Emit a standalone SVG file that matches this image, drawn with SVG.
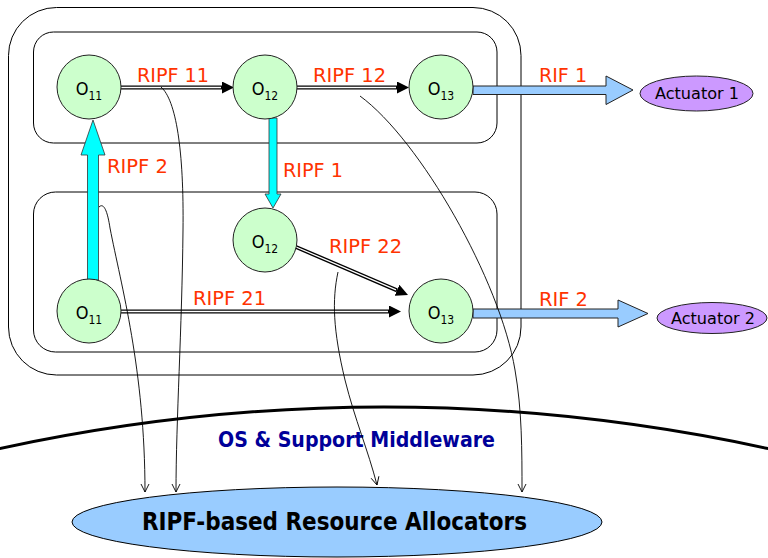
<svg xmlns="http://www.w3.org/2000/svg" width="768" height="558" viewBox="0 0 768 558">
  <style>
    .box { fill: none; stroke: #000; stroke-width: 1; }
    .node circle { fill: #ccffcc; stroke: #222; stroke-width: 1; }
    .otxt { font-family: "DejaVu Sans Condensed", "DejaVu Sans", sans-serif; font-stretch: condensed; font-size: 18px; fill: #000; text-anchor: middle; }
    .sub { font-size: 12px; }
    .lbl { font-family: "DejaVu Sans Condensed", "DejaVu Sans", sans-serif; font-stretch: condensed; font-size: 20px; fill: #ff3300; }
    .act ellipse { fill: #cc99ff; stroke: #222; stroke-width: 1; }
    .acttxt { font-family: "DejaVu Sans Condensed", "DejaVu Sans", sans-serif; font-stretch: condensed; font-size: 16.5px; fill: #000; }
    .dbl-out { fill: none; stroke: #000; stroke-width: 4; }
    .dbl-in { fill: none; stroke: #fff; stroke-width: 1.3; }
    .cyan { fill: #00ffff; stroke: #333; stroke-width: 0.8; }
    .blue { fill: #99ccff; stroke: #222; stroke-width: 1; }
    .thin { fill: none; stroke: #000; stroke-width: 0.9; marker-end: url(#open); }
    .mw { fill: none; stroke: #000; stroke-width: 3; }
    .mwtxt { font-family: "DejaVu Sans Condensed", "DejaVu Sans", sans-serif; font-stretch: condensed; font-weight: bold; font-size: 21px; fill: #000099; }
    .alloc ellipse { fill: #99ccff; stroke: #000; stroke-width: 1; }
    .alloctxt { font-family: "DejaVu Sans Condensed", "DejaVu Sans", sans-serif; font-stretch: condensed; font-weight: bold; font-size: 24px; fill: #000; text-anchor: middle; }
  </style>
  <defs>
    <marker id="head" markerUnits="userSpaceOnUse" markerWidth="12" markerHeight="12" refX="0" refY="6" orient="auto">
      <path d="M0,0 L12,6 L0,12 z" fill="#000"/>
    </marker>
    <marker id="open" markerUnits="userSpaceOnUse" markerWidth="10" markerHeight="10" refX="9" refY="5" orient="auto">
      <path d="M1,1 L9,5 L1,9" fill="none" stroke="#000" stroke-width="0.9"/>
    </marker>
  </defs>

  <rect width="768" height="558" fill="#fff"/>

  <!-- middleware layer boundary -->
  <path class="mw" d="M-2,449 Q384,365 770,449"/>
  <text class="mwtxt" x="218" y="447" textLength="277" lengthAdjust="spacingAndGlyphs">OS &amp; Support Middleware</text>

  <!-- containers -->
  <g id="outer-box">
    <rect class="box" x="8.5" y="7.5" width="512.5" height="367.5" rx="48"/>
  </g>
  <g id="group-1">
    <rect class="box" x="33.5" y="32" width="463.5" height="111" rx="20"/>
  </g>
  <g id="group-2">
    <rect class="box" x="33.5" y="192" width="463.5" height="160" rx="22"/>
  </g>

  <!-- allocator -->
  <g id="allocators" class="alloc">
    <ellipse cx="337" cy="522" rx="265" ry="35"/>
    <text class="alloctxt" x="334.5" y="530" textLength="385" lengthAdjust="spacingAndGlyphs">RIPF-based Resource Allocators</text>
  </g>

  <g id="connectors">
    <!-- RIPF 11 -->
    <line class="dbl-out" x1="121" y1="87.5" x2="222" y2="87.5" marker-end="url(#head)"/>
    <line class="dbl-in" x1="121" y1="87.5" x2="221" y2="87.5"/>
    <!-- RIPF 12 -->
    <line class="dbl-out" x1="297" y1="87.5" x2="397" y2="87.5" marker-end="url(#head)"/>
    <line class="dbl-in" x1="297" y1="87.5" x2="396" y2="87.5"/>
    <!-- RIPF 21 -->
    <line class="dbl-out" x1="121" y1="311.5" x2="389" y2="311.5" marker-end="url(#head)"/>
    <line class="dbl-in" x1="121" y1="311.5" x2="388" y2="311.5"/>
    <!-- RIPF 22 -->
    <line class="dbl-out" x1="296" y1="247" x2="397" y2="290.3" marker-end="url(#head)"/>
    <line class="dbl-in" x1="296" y1="247" x2="396" y2="289.9"/>

    <!-- RIPF 1 (down) -->
    <polygon class="cyan" points="269,118 277,118 277,194 281,194 273,208 265,194 269,194"/>
    <!-- RIPF 2 (up) -->
    <polygon class="cyan" points="87.5,280 98.5,280 98.5,155 105,155 93,120 81,155 87.5,155"/>

    <!-- RIF 1 / RIF 2 -->
    <polygon class="blue" points="473,86 606,86 606,76 633,90 606,104.5 606,94.5 473,94.5"/>
    <polygon class="blue" points="473,309 618,309 618,300 648,313.5 618,327 618,318 473,318"/>

    <!-- resource demands to allocators -->
    <path class="thin" d="M99,207 C103,203 107,208 110,228 C121,285 145,370 145,492"/>
    <path class="thin" d="M161,87 C176,100 184,150 183,230 C182,330 176,420 176,492"/>
    <path class="thin" d="M338,272 C332,300 333,330 345,380 C355,420 368,450 377,485"/>
    <path class="thin" d="M360,96 C420,140 500,280 515,370 C522,410 522,450 522,492"/>
  </g>

  <!-- connector labels -->
  <text class="lbl" x="137" y="82" textLength="72" lengthAdjust="spacingAndGlyphs">RIPF 11</text>
  <text class="lbl" x="313" y="82" textLength="73" lengthAdjust="spacingAndGlyphs">RIPF 12</text>
  <text class="lbl" x="107" y="173" textLength="61" lengthAdjust="spacingAndGlyphs">RIPF 2</text>
  <text class="lbl" x="283" y="177" textLength="60" lengthAdjust="spacingAndGlyphs">RIPF 1</text>
  <text class="lbl" x="329" y="253" textLength="73" lengthAdjust="spacingAndGlyphs">RIPF 22</text>
  <text class="lbl" x="193" y="305" textLength="73" lengthAdjust="spacingAndGlyphs">RIPF 21</text>
  <text class="lbl" x="539" y="82" textLength="48" lengthAdjust="spacingAndGlyphs">RIF 1</text>
  <text class="lbl" x="539" y="306" textLength="49" lengthAdjust="spacingAndGlyphs">RIF 2</text>

  <!-- operators -->
  <g id="o11-top" class="node">
    <circle cx="89" cy="87" r="32"/>
    <text class="otxt" x="89" y="95">O<tspan class="sub" dy="5">11</tspan></text>
  </g>
  <g id="o12-top" class="node">
    <circle cx="265" cy="87" r="32"/>
    <text class="otxt" x="265" y="95">O<tspan class="sub" dy="5">12</tspan></text>
  </g>
  <g id="o13-top" class="node">
    <circle cx="441" cy="87" r="32"/>
    <text class="otxt" x="441" y="95">O<tspan class="sub" dy="5">13</tspan></text>
  </g>
  <g id="o12-mid" class="node">
    <circle cx="265" cy="240" r="32"/>
    <text class="otxt" x="265" y="248">O<tspan class="sub" dy="5">12</tspan></text>
  </g>
  <g id="o11-bot" class="node">
    <circle cx="89" cy="311" r="32"/>
    <text class="otxt" x="89" y="319">O<tspan class="sub" dy="5">11</tspan></text>
  </g>
  <g id="o13-bot" class="node">
    <circle cx="441" cy="311" r="32"/>
    <text class="otxt" x="441" y="319">O<tspan class="sub" dy="5">13</tspan></text>
  </g>

  <!-- actuators -->
  <g id="actuator-1" class="act">
    <ellipse cx="696.5" cy="93.5" rx="56.5" ry="17.5"/>
    <text class="acttxt" x="655" y="99" textLength="84" lengthAdjust="spacingAndGlyphs">Actuator 1</text>
  </g>
  <g id="actuator-2" class="act">
    <ellipse cx="712" cy="318" rx="55" ry="15.5"/>
    <text class="acttxt" x="671" y="324" textLength="84" lengthAdjust="spacingAndGlyphs">Actuator 2</text>
  </g>
</svg>
